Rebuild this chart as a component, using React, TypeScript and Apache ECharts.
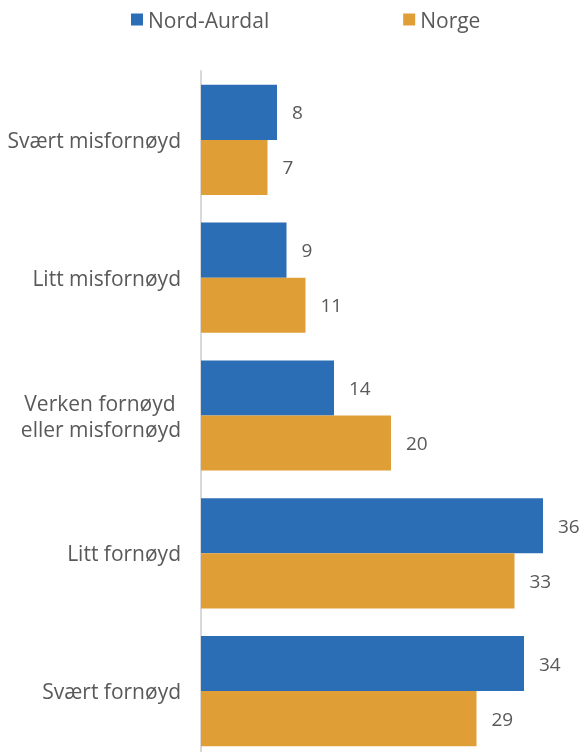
import React, { useEffect, useRef } from "react";
import * as echarts from "echarts";

const categories = [
  "Svært misfornøyd",
  "Litt misfornøyd",
  "Verken fornøyd \neller misfornøyd",
  "Litt fornøyd",
  "Svært fornøyd",
];
const nordAurdal = [8, 9, 14, 36, 34];
const norge = [7, 11, 20, 33, 29];
const seriesNames = ["Nord-Aurdal", "Norge"];

const FONT = "'Open Sans', 'Noto Sans', sans-serif";
const TEXT = "#595959";

export default function App() {
  const ref = useRef<HTMLDivElement>(null);
  useEffect(() => {
    if (!ref.current) return;
    const chart = echarts.init(ref.current, null, { renderer: "svg" });
    const label = {
      show: true,
      position: "right" as const,
      distance: 15,
      color: TEXT,
      fontSize: 19,
      fontFamily: FONT,
    };
    chart.setOption({
      animation: false,
      legend: {
        top: 4,
        left: 126,
        itemWidth: 12,
        itemHeight: 12,
        itemGap: 134,
        icon: "rect",
        textStyle: { color: TEXT, fontSize: 21, fontFamily: FONT },
        data: seriesNames,
      },
      grid: { left: 201, right: 0, top: 71, height: 689 },
      xAxis: {
        type: "value",
        min: 0,
        max: 40,
        show: false,
      },
      yAxis: {
        type: "category",
        inverse: true,
        data: categories,
        axisLine: { show: true, lineStyle: { color: "#d9d9d9", width: 2 } },
        axisTick: { show: false },
        axisLabel: {
          color: TEXT,
          fontSize: 21,
          fontFamily: FONT,
          margin: 20,
          lineHeight: 26,
        },
      },
      series: [
        {
          name: seriesNames[0],
          type: "bar",
          data: nordAurdal,
          itemStyle: { color: "#2B6EB5" },
          barGap: "0%",
          barCategoryGap: "20%",
          label,
        },
        {
          name: seriesNames[1],
          type: "bar",
          data: norge,
          itemStyle: { color: "#E09E37" },
          label,
        },
      ],
    });
    return () => chart.dispose();
  }, []);
  return (
    <div
      ref={ref}
      style={{ position: "fixed", top: 0, left: 0, width: 581, height: 770 }}
    />
  );
}
